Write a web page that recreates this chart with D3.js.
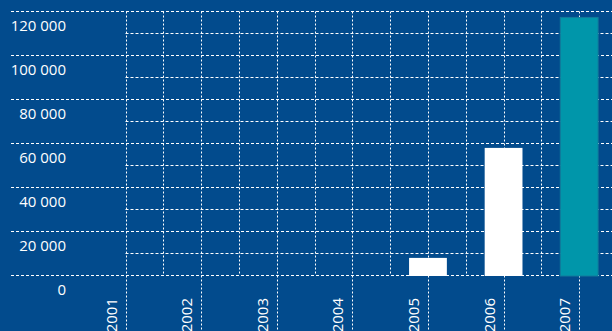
<!DOCTYPE html>
<html><head><meta charset="utf-8">
<script src="https://cdn.jsdelivr.net/npm/d3@7"></script>
<style>html,body{margin:0;padding:0;background:#024b8d;}svg{display:block;}</style>
</head><body><svg id="c" width="612" height="331"></svg>
<script>
const years = ["2001","2002","2003","2004","2005","2006","2007"];
const values = [0, 0, 0, 0, 8000, 58000, 117300];
const highlight = ["2007"];
const yTicks = [0, 20000, 40000, 60000, 80000, 100000, 120000];
const yMinor = [10000, 30000, 50000, 70000, 90000, 110000];
const tickLabels = ["0","20 000","40 000","60 000","80 000","100 000","120 000"];

const W = 612, H = 331;
const svg = d3.select("#c");
svg.append("rect").attr("width", W).attr("height", H).attr("fill", "#024b8d");

const y = d3.scaleLinear().domain([0, 120000]).range([275.5, 11.5]);
const x = d3.scaleBand().domain(years).range([87.7, 617]).padding(0);
const step = x.step();
const cx = d => x(d) + step / 2;
const plotLeft = cx(years[0]);

const grid = svg.append("g").attr("stroke", "#ffffff").attr("stroke-width", 1)
  .attr("stroke-dasharray", "3,2").attr("fill", "none");

// major horizontal lines
grid.selectAll("line.hmaj").data(yTicks).join("line").attr("class","hmaj")
  .attr("x1", 11).attr("x2", W).attr("y1", d => y(d)).attr("y2", d => y(d));
// minor horizontal lines
grid.selectAll("line.hmin").data(yMinor).join("line").attr("class","hmin")
  .attr("x1", plotLeft).attr("x2", W).attr("y1", d => y(d)).attr("y2", d => y(d));
// minor vertical lines (band boundaries)
grid.selectAll("line.vmin").data(years.slice(1)).join("line").attr("class","vmin")
  .attr("x1", d => Math.round(x(d)) + 0.5).attr("x2", d => Math.round(x(d)) + 0.5)
  .attr("y1", y(120000)).attr("y2", y(0)).attr("stroke-dasharray", "2,2");
// major vertical lines (category centres), extending below axis
grid.selectAll("line.vmaj").data(years).join("line").attr("class","vmaj")
  .attr("x1", d => Math.round(cx(d)) + 0.5).attr("x2", d => Math.round(cx(d)) + 0.5)
  .attr("y1", y(120000)).attr("y2", H).attr("stroke-dasharray", "2,2");

// bars
svg.append("g").selectAll("rect").data(years.map((d, i) => ({year: d, v: values[i]})).filter(d => d.v > 0))
  .join("rect")
  .attr("x", d => cx(d.year) - step / 4)
  .attr("width", step / 2)
  .attr("y", d => y(d.v))
  .attr("height", d => y(0) - y(d.v) + 0.5)
  .attr("fill", d => highlight.includes(d.year) ? "#0096aa" : "#ffffff")
  .attr("stroke", d => highlight.includes(d.year) ? "#127a9c" : "none")
  .attr("stroke-width", 1);

// y tick labels
svg.append("g").selectAll("text").data(yTicks).join("text")
  .attr("x", 66).attr("y", d => y(d) + 19.5)
  .attr("text-anchor", "end")
  .attr("fill", "#ffffff")
  .attr("font-family", "'Open Sans', sans-serif")
  .attr("font-size", 15)
  .text((d, i) => tickLabels[i]);

// x labels rotated
svg.append("g").selectAll("text").data(years).join("text")
  .attr("transform", d => `translate(${cx(d) - 9},298) rotate(-90)`)
  .attr("text-anchor", "end")
  .attr("fill", "#ffffff")
  .attr("font-family", "'Open Sans', sans-serif")
  .attr("font-size", 15)
  .text(d => d);
</script></body></html>
